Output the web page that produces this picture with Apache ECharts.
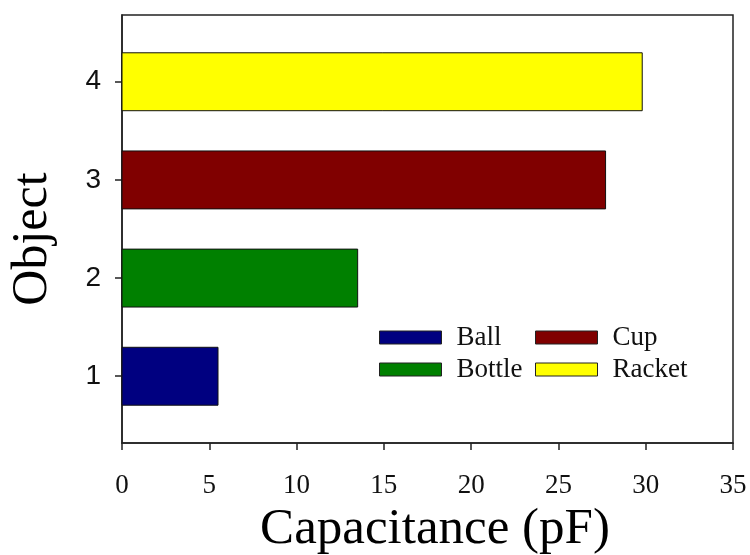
<!DOCTYPE html>
<html>
<head>
<meta charset="utf-8">
<script src="https://cdn.jsdelivr.net/npm/echarts@6/dist/echarts.min.js"></script>
<style>html,body{margin:0;padding:0;background:#fff}#c{width:750px;height:555px}</style>
</head>
<body>
<div id="c"></div>
<script>
const objects = ['Ball', 'Bottle', 'Cup', 'Racket'];
const objectIndex = [1, 2, 3, 4];
const capacitance = [5.5, 13.5, 27.7, 29.8];
const colors = ['#000080', '#008000', '#800000', '#ffff00'];
const yTickValues = [1, 2, 3, 4];
const xTitle = 'Capacitance (pF)';
const yTitle = 'Object';

const serif = '"Liberation Serif", "Times New Roman", serif';
const sans = '"Liberation Sans", Arial, sans-serif';

const chart = echarts.init(document.getElementById('c'), null, {renderer: 'canvas'});

function renderBar(params, api) {
  const y = api.value(1), v = api.value(0);
  const p0 = api.coord([0, y]);
  const p1 = api.coord([v, y]);
  const h = api.size([0, 0.59])[1];
  return {
    type: 'rect',
    shape: {x: p0[0], y: p0[1] - h / 2, width: p1[0] - p0[0], height: h},
    style: api.style({stroke: '#111', lineWidth: 1})
  };
}

const series = objects.map((name, i) => ({
  name: name,
  type: 'custom',
  renderItem: renderBar,
  itemStyle: {color: colors[i]},
  encode: {x: 0, y: 1},
  data: [[capacitance[i], objectIndex[i]]]
}));

const legendItem = (name) => ({
  name: name,
  itemStyle: {color: colors[objects.indexOf(name)], borderColor: '#222', borderWidth: 1}
});

const legendBase = {
  orient: 'vertical',
  icon: 'rect',
  padding: 0,
  itemWidth: 62,
  itemHeight: 13,
  itemGap: 5,
  selectedMode: false,
  textStyle: {fontFamily: serif, fontSize: 27, color: '#111', padding: [0, 0, 0, 10]}
};

chart.setOption({
  animation: false,
  backgroundColor: '#fff',
  grid: {left: 122, top: 15, right: 17, bottom: 112, show: true, borderColor: '#222', borderWidth: 1.5, containLabel: false, outerBoundsMode: 'none'},
  xAxis: {
    type: 'value', min: 0, max: 35, interval: 5,
    splitLine: {show: false},
    axisLine: {show: true, lineStyle: {color: '#222', width: 1.5}},
    axisTick: {show: true, inside: false, length: 7, lineStyle: {color: '#222', width: 1.5}},
    axisLabel: {fontFamily: serif, fontSize: 27, color: '#111', margin: 29},
    name: xTitle, nameLocation: 'middle', nameGap: 61,
    nameTextStyle: {fontFamily: serif, fontSize: 51, color: '#000', padding: [0, 0, 0, 15]}
  },
  yAxis: {
    type: 'value', min: 0.32, max: 4.68,
    splitLine: {show: false},
    axisLine: {show: true, lineStyle: {color: '#222', width: 1.5}},
    axisTick: {show: true, inside: false, length: 7, customValues: yTickValues, lineStyle: {color: '#222', width: 1.5}},
    axisLabel: {fontFamily: sans, fontSize: 28, color: '#111', margin: 21, customValues: yTickValues},
    name: yTitle, nameLocation: 'middle', nameGap: 64,
    nameTextStyle: {fontFamily: serif, fontSize: 50, color: '#000', padding: [0, 20, 0, 0]}
  },
  legend: [
    Object.assign({}, legendBase, {left: 379, top: 324, data: ['Ball', 'Bottle'].map(legendItem)}),
    Object.assign({}, legendBase, {left: 535, top: 324, data: ['Cup', 'Racket'].map(legendItem)})
  ],
  series: series
});
</script>
</body>
</html>
